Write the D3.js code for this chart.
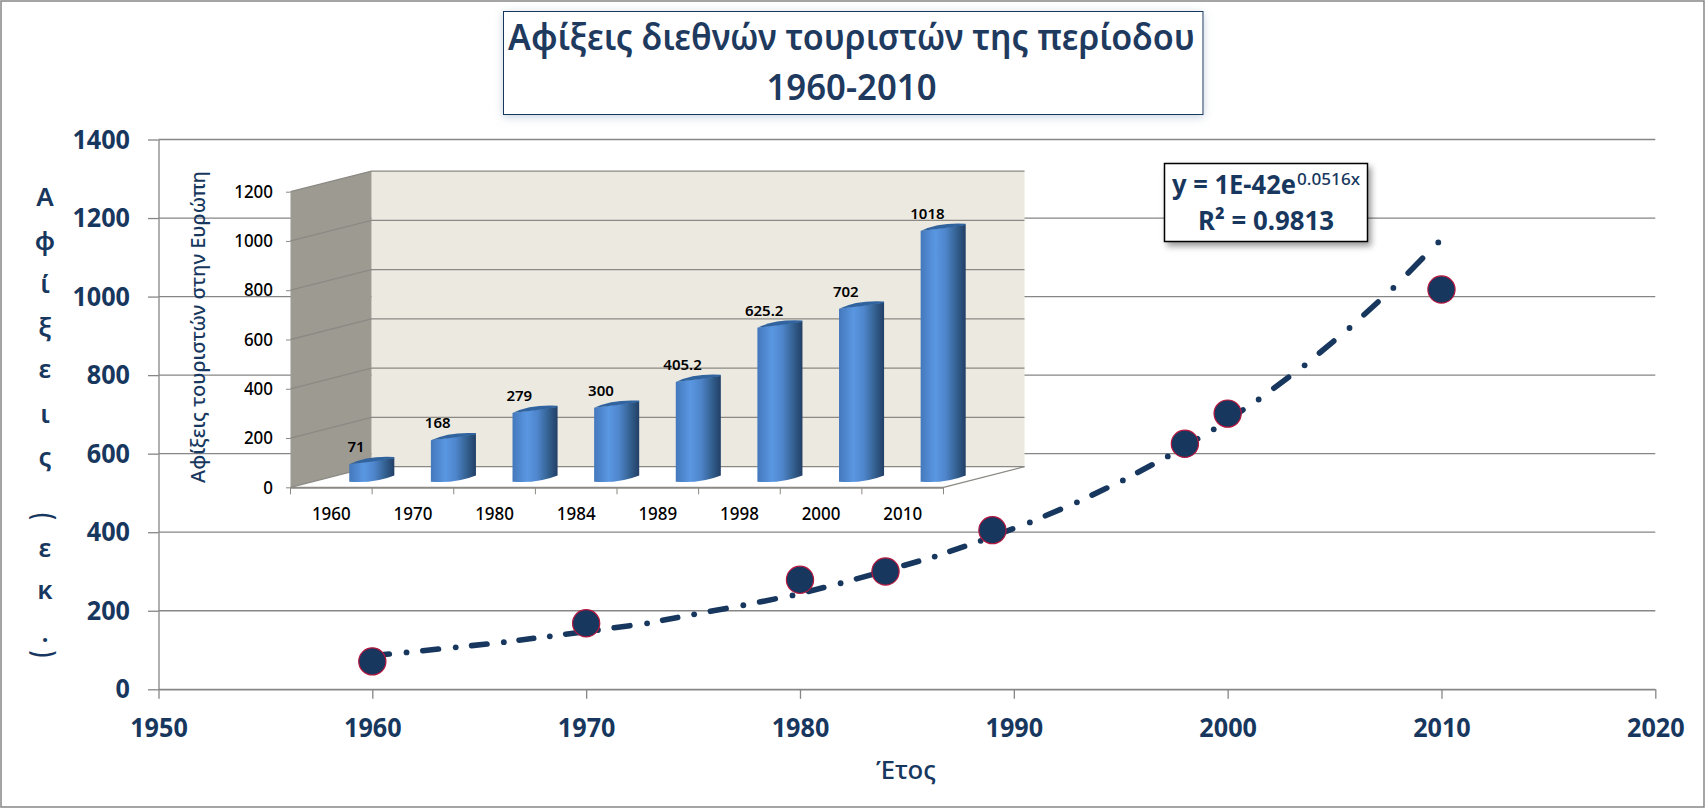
<!DOCTYPE html>
<html>
<head>
<meta charset="utf-8">
<script src="https://cdn.jsdelivr.net/npm/d3@7"></script>
<style>
  html, body { margin: 0; padding: 0; background: #fff; }
  svg { display: block; }
  text { font-family: "Noto Sans", "Open Sans", sans-serif; }
</style>
</head>
<body>
<div id="chart"></div>
<script>
// scatter values (also the values of the inset columns)
const years = [1960, 1970, 1980, 1984, 1989, 1998, 2000, 2010];
const arrivals = [71, 168, 279, 300, 405.2, 625.2, 702, 1018];

// trendline: where the dots of the dash-dot line sit on the picture
const trendYears = [1959.3, 1961.6, 1963.9, 1966.15, 1968.3, 1970.55, 1972.85, 1975.05, 1977.35, 1979.65,
  1981.9, 1984.15, 1986.3, 1988.45, 1990.75, 1992.95, 1995.1, 1997.2, 1999.35, 2001.45, 2003.6, 2005.7, 2007.75, 2009.85];
const trendValues = [82, 94, 107, 120, 135, 151, 168, 191, 214, 239,
  270, 304, 338, 378, 425, 476, 532, 593, 662, 738, 825, 920, 1022, 1138];

const mainYTicks = [0, 200, 400, 600, 800, 1000, 1200, 1400];
const mainXTicks = [1950, 1960, 1970, 1980, 1990, 2000, 2010, 2020];
const insetYTicks = [0, 200, 400, 600, 800, 1000, 1200];
const insetLabels = ['71', '168', '279', '300', '405.2', '625.2', '702', '1018'];

const titleLines = ['Αφίξεις διεθνών τουριστών της περίοδου', '1960-2010'];
const yLabelLetters = ['Α', 'φ', 'ί', 'ξ', 'ε', 'ι', 'ς', '(', 'ε', 'κ', '.', ')'];
const yLabelRows = [206, 250, 293, 336, 378, 423, 466, 516.5, 557, 599, 642, 654];

const navy = '#17375e';
const width = 1706;
const height = 809;

const svg = d3.select('#chart')
  .append('svg')
  .attr('width', width)
  .attr('height', height);

const defs = svg.append('defs');

const barGrad = defs.append('linearGradient').attr('id', 'barGrad');
[[0, '#4478bb'], [0.32, '#5a97e2'], [0.55, '#4f86cc'], [0.8, '#33608f'], [1, '#223f66']].forEach(s => {
  barGrad.append('stop').attr('offset', s[0]).attr('stop-color', s[1]);
});

defs.append('filter').attr('id', 'boxShadow')
  .attr('x', '-5%').attr('y', '-10%').attr('width', '112%').attr('height', '125%')
  .append('feDropShadow')
  .attr('dx', 3).attr('dy', 4).attr('stdDeviation', 3)
  .attr('flood-color', '#000').attr('flood-opacity', 0.4);

defs.append('filter').attr('id', 'titleShadow')
  .attr('x', '-3%').attr('y', '-15%').attr('width', '106%').attr('height', '130%')
  .append('feDropShadow')
  .attr('dx', 0).attr('dy', 2).attr('stdDeviation', 4)
  .attr('flood-color', '#8ea4c0').attr('flood-opacity', 0.5);

// outer frame
svg.append('rect')
  .attr('x', 1).attr('y', 1)
  .attr('width', 1703).attr('height', 806)
  .attr('fill', '#fff')
  .attr('stroke', '#868686')
  .attr('stroke-width', 1.5);

// main scales
const x = d3.scaleLinear().domain([1950, 2020]).range([158.5, 1655.3]);
const y = d3.scaleLinear().domain([0, 1400]).range([689.3, 139.5]);

// gridlines
svg.append('g')
  .selectAll('line')
  .data(mainYTicks)
  .enter()
  .append('line')
  .attr('x1', x(1950))
  .attr('x2', x(2020))
  .attr('y1', d => y(d))
  .attr('y2', d => y(d))
  .attr('stroke', '#868686')
  .attr('stroke-width', 1.3);

// main y axis
const yAxis = svg.append('g')
  .attr('transform', `translate(${x(1950)}, 0)`)
  .call(d3.axisLeft(y).tickValues(mainYTicks).tickSize(10.5).tickSizeOuter(0).tickPadding(18).tickFormat(d3.format('d')));

// main x axis
const xAxis = svg.append('g')
  .attr('transform', `translate(0, ${y(0)})`)
  .call(d3.axisBottom(x).tickValues(mainXTicks).tickSize(9.5).tickSizeOuter(0).tickPadding(18.6).tickFormat(d3.format('d')));

[yAxis, xAxis].forEach(a => {
  a.selectAll('path, line').attr('stroke', '#868686').attr('stroke-width', 1.3);
  a.selectAll('text')
    .attr('fill', navy)
    .attr('textLength', d => String(d).length * 14.4)
    .attr('lengthAdjust', 'spacingAndGlyphs')
    .style('font-size', '27px')
    .style('font-weight', 700);
});

// axis titles
svg.append('text')
  .attr('x', 906)
  .attr('y', 779)
  .attr('text-anchor', 'middle')
  .attr('fill', navy)
  .style('font-size', '26px')
  .style('font-weight', 500)
  .attr('textLength', 60)
  .attr('lengthAdjust', 'spacingAndGlyphs')
  .text('Έτος');

const isParen = d => d === '(' || d === ')';

svg.append('g')
  .selectAll('text')
  .data(yLabelLetters)
  .enter()
  .append('text')
  .attr('text-anchor', 'middle')
  .attr('transform', (d, i) => isParen(d)
    ? `translate(33.5, ${yLabelRows[i]}) rotate(90) scale(0.7, 1)`
    : `translate(45, ${yLabelRows[i]})`)
  .attr('fill', navy)
  .style('font-size', d => isParen(d) ? '30px' : '26px')
  .style('font-weight', 600)
  .text(d => d);

// inset: 3D column chart
const backDx = 81;
const backDy = -20.6;
const xInset = d3.scaleBand().domain(years).range([290.5, 943.5]);
const yInset = d3.scaleLinear().domain([0, 1200]).range([487.3, 191.7]);
const wallRight = xInset.range()[1] + backDx;

const inset = svg.append('g');

// back wall
inset.append('rect')
  .attr('x', xInset.range()[0] + backDx)
  .attr('y', yInset(1200) + backDy)
  .attr('width', wallRight - xInset.range()[0] - backDx)
  .attr('height', yInset(0) - yInset(1200))
  .attr('fill', '#ece9e0');

// side wall
inset.append('polygon')
  .attr('points', [
    [xInset.range()[0], yInset(1200)],
    [xInset.range()[0] + backDx, yInset(1200) + backDy],
    [xInset.range()[0] + backDx, yInset(0) + backDy],
    [xInset.range()[0], yInset(0)]
  ].join(' '))
  .attr('fill', '#9d9a92');

// floor
inset.append('polygon')
  .attr('points', [
    [xInset.range()[0], yInset(0)],
    [xInset.range()[0] + backDx, yInset(0) + backDy],
    [wallRight, yInset(0) + backDy],
    [xInset.range()[1], yInset(0)]
  ].join(' '))
  .attr('fill', '#fff');

// gridlines, side wall then back wall
inset.append('g')
  .selectAll('path')
  .data(insetYTicks)
  .enter()
  .append('path')
  .attr('d', d => `M${xInset.range()[0]},${yInset(d)}L${xInset.range()[0] + backDx},${yInset(d) + backDy}H${wallRight}`)
  .attr('fill', 'none')
  .attr('stroke', '#8b8983')
  .attr('stroke-width', 1.3);

// floor edge on the right
inset.append('line')
  .attr('x1', xInset.range()[1]).attr('y1', yInset(0))
  .attr('x2', wallRight).attr('y2', yInset(0) + backDy)
  .attr('stroke', '#8b8983')
  .attr('stroke-width', 1.3);

// inset y axis
const yAxisInset = inset.append('g')
  .attr('transform', `translate(${xInset.range()[0]}, 0)`)
  .call(d3.axisLeft(yInset).tickValues(insetYTicks).tickSize(4.5).tickSizeOuter(0).tickPadding(13).tickFormat(d3.format('d')));

// inset x axis, labels on the bands
const xAxisInset = inset.append('g')
  .attr('transform', `translate(0, ${yInset(0)})`)
  .call(d3.axisBottom(xInset).tickSize(0).tickSizeOuter(0).tickPadding(20));

[yAxisInset, xAxisInset].forEach(a => {
  a.select('.domain').attr('stroke', '#8b8983').attr('stroke-width', 2);
  a.selectAll('line').attr('stroke', '#8b8983');
  a.selectAll('text')
    .attr('fill', '#000')
    .attr('textLength', d => String(d).length * 9.7)
    .attr('lengthAdjust', 'spacingAndGlyphs')
    .style('font-size', '18px')
    .style('font-weight', 500);
});
yAxisInset.select('.domain').attr('stroke', 'none');

// inset x ticks sit on the band edges
inset.append('g')
  .selectAll('line')
  .data(xInset.domain().concat(['end']))
  .enter()
  .append('line')
  .attr('x1', d => d === 'end' ? xInset.range()[1] : xInset(d))
  .attr('x2', d => d === 'end' ? xInset.range()[1] : xInset(d))
  .attr('y1', yInset(0))
  .attr('y2', yInset(0) + 7)
  .attr('stroke', '#8b8983');

// columns
const barW = xInset.bandwidth() * 0.552;
const barLeft = d => xInset(d) + xInset.bandwidth() * 0.72;
const barBase = yInset(0) - 5.6;
const barTop = v => yInset(v) - 5.6;
const tilt = 6.2;

const bars = inset.append('g')
  .selectAll('g')
  .data(years.map((yr, i) => ({ yr, v: arrivals[i], label: insetLabels[i] })))
  .enter()
  .append('g');

bars.append('path')
  .attr('d', d => {
    const l = barLeft(d.yr);
    const r = l + barW;
    const t = barTop(d.v);
    return `M${l},${t}L${r},${t - tilt}V${barBase - tilt}Q${l + barW * 0.55},${barBase + 2} ${l},${barBase}Z`;
  })
  .attr('fill', 'url(#barGrad)');

// column caps
bars.append('path')
  .attr('d', d => {
    const l = barLeft(d.yr);
    const r = l + barW;
    const t = barTop(d.v);
    return `M${l},${t}Q${l + barW * 0.4},${t - tilt - 2.5} ${r},${t - tilt - 1}V${t - tilt + 0.5}Q${l + barW * 0.5},${t - tilt / 2 + 0.8} ${l},${t}Z`;
  })
  .attr('fill', '#31649f');

bars.append('text')
  .attr('x', d => barLeft(d.yr) + 6.8)
  .attr('y', d => barTop(d.v) - 12)
  .attr('text-anchor', 'middle')
  .attr('fill', '#000')
  .style('font-size', '15px')
  .style('font-weight', 600)
  .text(d => d.label);

// inset y title
inset.append('text')
  .attr('transform', 'translate(204.5, 483) rotate(-90)')
  .attr('fill', navy)
  .attr('textLength', 312)
  .attr('lengthAdjust', 'spacingAndGlyphs')
  .style('font-size', '20.5px')
  .style('font-weight', 500)
  .text('Αφίξεις τουριστών στην Ευρώπη');

// trendline, drawn dot by dot then dash by dash, under the markers
const trend = svg.append('g');
const trendPts = trendYears.map((yr, i) => ({ yr, v: trendValues[i] }));
const trendLine = d3.line().x(d => x(d.yr)).y(d => y(d.v));
const along = (a, b, t) => ({ yr: a.yr + (b.yr - a.yr) * t, v: a.v + (b.v - a.v) * t });

trend.selectAll('circle')
  .data(trendPts.slice(1))
  .enter()
  .append('circle')
  .attr('cx', d => x(d.yr))
  .attr('cy', d => y(d.v))
  .attr('r', 2.9)
  .attr('fill', navy);

trend.selectAll('path')
  .data(d3.pairs(trendPts))
  .enter()
  .append('path')
  .attr('d', d => trendLine([along(d[0], d[1], 0.33), along(d[0], d[1], 0.65)]))
  .attr('fill', 'none')
  .attr('stroke', navy)
  .attr('stroke-width', 5.6)
  .attr('stroke-linecap', 'round');

// scatter markers
svg.append('g')
  .selectAll('circle')
  .data(years)
  .enter()
  .append('circle')
  .attr('cx', d => x(d))
  .attr('cy', (d, i) => y(arrivals[i]))
  .attr('r', 13.6)
  .attr('fill', navy)
  .attr('stroke', '#b5173f')
  .attr('stroke-width', 1.2);

// equation box
svg.append('rect')
  .attr('x', 1164.5).attr('y', 163.5)
  .attr('width', 203).attr('height', 78)
  .attr('fill', '#fff')
  .attr('stroke', '#000')
  .attr('stroke-width', 1.5)
  .attr('filter', 'url(#boxShadow)');

const eq = svg.append('g').attr('fill', navy).style('font-weight', 700);
eq.append('text')
  .attr('x', 1172).attr('y', 193.5)
  .attr('textLength', 124).attr('lengthAdjust', 'spacingAndGlyphs')
  .style('font-size', '27px')
  .text('y = 1E-42e');
eq.append('text')
  .attr('x', 1297).attr('y', 185)
  .attr('textLength', 63).attr('lengthAdjust', 'spacingAndGlyphs')
  .style('font-size', '17px')
  .style('font-weight', 500)
  .text('0.0516x');
eq.append('text')
  .attr('x', 1198).attr('y', 229.5)
  .attr('textLength', 136).attr('lengthAdjust', 'spacingAndGlyphs')
  .style('font-size', '27px')
  .text('R² = 0.9813');

// title box
svg.append('rect')
  .attr('x', 503.5).attr('y', 11.5)
  .attr('width', 699.5).attr('height', 103)
  .attr('fill', '#fff')
  .attr('stroke', navy)
  .attr('stroke-width', 1)
  .attr('filter', 'url(#titleShadow)');

svg.append('g')
  .selectAll('text')
  .data(titleLines)
  .enter()
  .append('text')
  .attr('x', 851.5)
  .attr('y', (d, i) => i === 0 ? 50 : 99.5)
  .attr('text-anchor', 'middle')
  .attr('fill', '#1f3a5f')
  .attr('textLength', (d, i) => i === 0 ? 687 : 170)
  .attr('lengthAdjust', 'spacingAndGlyphs')
  .style('font-size', '36px')
  .style('font-weight', 600)
  .text(d => d);
</script>
</body>
</html>
